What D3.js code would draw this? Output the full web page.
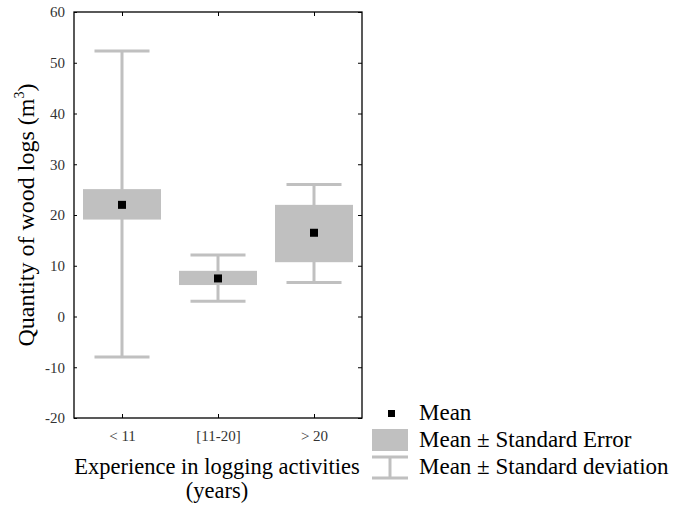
<!DOCTYPE html>
<html>
<head>
<meta charset="utf-8">
<script src="https://cdn.jsdelivr.net/npm/d3@7"></script>
<style>
  body { margin: 0; background: #fff; }
  svg text { font-family: "Liberation Serif", "DejaVu Serif", serif; }
</style>
</head>
<body>
<svg id="chart" width="685" height="513"></svg>
<script>
// groups and their statistics
const categories = ['< 11', '[11-20]', '> 20'];
const means = [22.0, 7.5, 16.5];
const seLow = [19.1, 6.2, 10.7];
const seHigh = [25.1, 9.0, 22.0];
const sdLow = [-8.0, 3.0, 6.7];
const sdHigh = [52.3, 12.1, 26.0];
const yTicks = [-20, -10, 0, 10, 20, 30, 40, 50, 60];

const plotLeft = 74, plotRight = 362, plotTop = 12, plotBottom = 418;
const grey = '#c0c0c0';

const svg = d3.select('#chart');

const x = d3.scalePoint()
  .domain(categories)
  .range([plotLeft, plotRight])
  .padding(0.5);

const y = d3.scaleLinear()
  .domain([-20, 60])
  .range([plotBottom, plotTop]);

const rows = categories.map((c, i) => ({
  cat: c, mean: means[i], seLo: seLow[i], seHi: seHigh[i], sdLo: sdLow[i], sdHi: sdHigh[i]
}));

const boxW = 78, capW = 55, markS = 8;

// whiskers (standard deviation)
const g = svg.append('g');
g.selectAll('line.stem')
  .data(rows).enter().append('line')
  .attr('x1', d => x(d.cat)).attr('x2', d => x(d.cat))
  .attr('y1', d => y(d.sdLo)).attr('y2', d => y(d.sdHi))
  .attr('stroke', grey).attr('stroke-width', 3);
g.selectAll('line.capHi')
  .data(rows).enter().append('line')
  .attr('x1', d => x(d.cat) - capW / 2).attr('x2', d => x(d.cat) + capW / 2)
  .attr('y1', d => y(d.sdHi)).attr('y2', d => y(d.sdHi))
  .attr('stroke', grey).attr('stroke-width', 3);
g.selectAll('line.capLo')
  .data(rows).enter().append('line')
  .attr('x1', d => x(d.cat) - capW / 2).attr('x2', d => x(d.cat) + capW / 2)
  .attr('y1', d => y(d.sdLo)).attr('y2', d => y(d.sdLo))
  .attr('stroke', grey).attr('stroke-width', 3);

// boxes (standard error)
g.selectAll('rect.se')
  .data(rows).enter().append('rect')
  .attr('x', d => x(d.cat) - boxW / 2)
  .attr('width', boxW)
  .attr('y', d => y(d.seHi))
  .attr('height', d => y(d.seLo) - y(d.seHi))
  .attr('fill', grey);

// means
g.selectAll('rect.mean')
  .data(rows).enter().append('rect')
  .attr('x', d => x(d.cat) - markS / 2)
  .attr('y', d => y(d.mean) - markS / 2)
  .attr('width', markS).attr('height', markS)
  .attr('fill', '#000');

// frame
svg.append('rect')
  .attr('x', plotLeft).attr('y', plotTop)
  .attr('width', plotRight - plotLeft).attr('height', plotBottom - plotTop)
  .attr('fill', 'none').attr('stroke', '#000').attr('stroke-width', 1.3);

// axes
const yAxis = d3.axisLeft(y).tickValues(yTicks).tickSize(0).tickPadding(9)
  .tickFormat(d => String(d));
svg.append('g')
  .attr('transform', `translate(${plotLeft},0)`)
  .call(yAxis)
  .call(a => a.select('.domain').remove())
  .call(a => a.selectAll('text').attr('font-size', 15).attr('fill', '#333')
    .style('font-family', '"Liberation Serif", serif'));

svg.append('g')
  .attr('transform', `translate(${plotRight},0)`)
  .call(d3.axisLeft(y).tickValues(yTicks).tickSize(4).tickFormat(''))
  .call(a => a.select('.domain').remove());
svg.append('g')
  .attr('transform', `translate(${plotLeft},0)`)
  .call(d3.axisRight(y).tickValues(yTicks).tickSize(3).tickFormat(''))
  .call(a => a.select('.domain').remove());

svg.append('g')
  .attr('transform', `translate(0,${plotBottom})`)
  .call(d3.axisTop(x).tickSize(4).tickFormat(''))
  .call(a => a.select('.domain').remove());
svg.append('g')
  .attr('transform', `translate(0,${plotTop})`)
  .call(d3.axisBottom(x).tickSize(4).tickFormat(''))
  .call(a => a.select('.domain').remove());

svg.append('g')
  .attr('transform', `translate(0,${plotBottom})`)
  .call(d3.axisBottom(x).tickSize(0).tickPadding(12))
  .call(a => a.select('.domain').remove())
  .call(a => a.selectAll('text').attr('font-size', 15).attr('fill', '#333')
    .style('font-family', '"Liberation Serif", serif'));

// axis titles
svg.append('text')
  .attr('x', 217).attr('y', 474)
  .attr('text-anchor', 'middle').attr('font-size', 22.5)
  .text('Experience in logging activities');
svg.append('text')
  .attr('x', 217).attr('y', 498)
  .attr('text-anchor', 'middle').attr('font-size', 22.5)
  .text('(years)');

const yt = svg.append('text')
  .attr('transform', 'translate(34,215) rotate(-90)')
  .attr('text-anchor', 'middle').attr('font-size', 24);
yt.append('tspan').text('Quantity of wood logs (m');
yt.append('tspan').attr('font-size', 14).attr('dy', -10).text('3');
yt.append('tspan').attr('dy', 10).text(')');

// legend
const lg = svg.append('g');
lg.append('rect').attr('x', 388).attr('y', 410).attr('width', 7).attr('height', 7).attr('fill', '#000');
lg.append('rect').attr('x', 372).attr('y', 429).attr('width', 36).attr('height', 22).attr('fill', grey);
lg.append('line').attr('x1', 372).attr('x2', 408).attr('y1', 457).attr('y2', 457).attr('stroke', grey).attr('stroke-width', 3);
lg.append('line').attr('x1', 372).attr('x2', 408).attr('y1', 478).attr('y2', 478).attr('stroke', grey).attr('stroke-width', 3);
lg.append('line').attr('x1', 390).attr('x2', 390).attr('y1', 457).attr('y2', 478).attr('stroke', grey).attr('stroke-width', 3);

const legendText = ['Mean', 'Mean \u00b1 Standard Error', 'Mean \u00b1 Standard deviation'];
const legendY = [420, 447, 474];
lg.selectAll('text.leg')
  .data(legendText).enter().append('text')
  .attr('x', 419).attr('y', (d, i) => legendY[i])
  .attr('font-size', 23)
  .text(d => d);
</script>
</body>
</html>
